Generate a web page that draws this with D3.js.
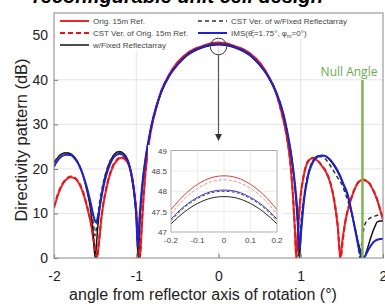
<!DOCTYPE html>
<html>
<head>
<meta charset="utf-8">
<script src="https://cdn.jsdelivr.net/npm/d3@7"></script>
<style>
  body { margin: 0; background: #fff; }
  svg { display: block; font-family: "Liberation Sans", Arial, sans-serif; }
</style>
</head>
<body>
<svg id="chart" width="385" height="306"></svg>
<script>
// values (angle in deg, directivity in dB)
var xTicks = [-2, -1, 0, 1, 2];
var yTicks = [0, 10, 20, 30, 40, 50];
var insetXTicks = [-0.2, -0.1, 0, 0.1, 0.2];
var insetYTicks = [47, 47.5, 48, 48.5, 49];
var nullAngle = 1.75;

var origRef = [[-2,11.2],[-1.95,14.3],[-1.9,16.4],[-1.85,17.6],[-1.8,18.1],[-1.75,17.9],[-1.7,16.9],[-1.65,14.8],[-1.6,11.6],[-1.55,7.6],[-1.51,3],[-1.48,0],[-1.45,4],[-1.42,9.5],[-1.37,15],[-1.3,19.8],[-1.23,22],[-1.18,22.5],[-1.12,21.8],[-1.06,18.8],[-1.01,12.5],[-0.98,6],[-0.955,0],[-0.935,6],[-0.91,14],[-0.87,22.5],[-0.82,28.8],[-0.76,33.5],[-0.7,37.3],[-0.6,41.2],[-0.5,43.9],[-0.4,45.7],[-0.3,46.9],[-0.2,47.55],[-0.15,47.91],[-0.1,48.17],[-0.05,48.33],[0,48.38],[0.05,48.33],[0.1,48.17],[0.15,47.91],[0.2,47.55],[0.3,46.9],[0.4,45.7],[0.5,43.9],[0.6,41.1],[0.7,37.1],[0.76,33.2],[0.82,28.3],[0.87,22],[0.905,14],[0.93,6],[0.945,0],[0.965,6],[0.99,12.5],[1.04,18.8],[1.09,21.7],[1.14,22.4],[1.2,21.9],[1.26,20.6],[1.31,19.2],[1.36,16.8],[1.41,12.5],[1.45,7],[1.48,0],[1.51,4.5],[1.55,9],[1.6,12.5],[1.68,16.4],[1.75,17.5],[1.82,17],[1.88,15.2],[1.93,13],[1.97,10.5],[2,8.5]];

var cstOrig = [[-2,11.5],[-1.95,14.5],[-1.9,16.6],[-1.85,17.8],[-1.8,18.3],[-1.75,18.1],[-1.7,17],[-1.65,15],[-1.6,11.8],[-1.55,7.8],[-1.51,3.2],[-1.475,0],[-1.45,4.5],[-1.42,9.8],[-1.37,15.2],[-1.3,20],[-1.23,22.2],[-1.18,22.7],[-1.12,22],[-1.06,19],[-1.01,12.8],[-0.98,6.3],[-0.958,0],[-0.938,6.3],[-0.91,14.3],[-0.87,22.6],[-0.82,28.8],[-0.76,33.4],[-0.7,37.2],[-0.6,41.1],[-0.5,43.8],[-0.4,45.6],[-0.3,46.8],[-0.2,47.44],[-0.15,47.81],[-0.1,48.07],[-0.05,48.23],[0,48.28],[0.05,48.23],[0.1,48.07],[0.15,47.81],[0.2,47.44],[0.3,46.8],[0.4,45.6],[0.5,43.8],[0.6,41],[0.7,37],[0.76,33.1],[0.82,28.2],[0.87,22],[0.905,14.2],[0.93,6.2],[0.948,0],[0.968,6.2],[0.993,12.7],[1.04,18.9],[1.09,21.8],[1.14,22.5],[1.2,22],[1.26,20.7],[1.31,19.3],[1.36,16.9],[1.41,12.7],[1.45,7.2],[1.485,0],[1.515,4.5],[1.55,9],[1.6,12.6],[1.68,16.5],[1.75,17.6],[1.82,17.1],[1.88,15.3],[1.93,13.1],[1.97,10.6],[2,8.7]];

var imsBeam = [[-2,20.5],[-1.95,22],[-1.9,22.9],[-1.85,23.2],[-1.8,23.1],[-1.75,22.4],[-1.7,21],[-1.65,18.8],[-1.6,15.8],[-1.55,12],[-1.52,9.5],[-1.49,8],[-1.46,9.8],[-1.43,13],[-1.38,17.5],[-1.32,21],[-1.26,22.9],[-1.2,23.4],[-1.14,22.8],[-1.08,20.5],[-1.03,15.5],[-1,9.5],[-0.98,2.5],[-0.96,9],[-0.93,16],[-0.89,22],[-0.84,27.5],[-0.79,31.8],[-0.7,37.1],[-0.6,40.9],[-0.5,43.4],[-0.4,45.3],[-0.3,46.6],[-0.2,47.32],[-0.15,47.63],[-0.1,47.85],[-0.05,47.99],[0,48.03],[0.05,47.99],[0.1,47.85],[0.15,47.63],[0.2,47.32],[0.3,46.6],[0.4,45.3],[0.5,43.4],[0.6,40.9],[0.7,37.3],[0.79,32.3],[0.84,28],[0.89,22.5],[0.93,16.5],[0.965,9],[0.985,2],[1.005,6],[1.04,13],[1.09,18.5],[1.15,21.6],[1.21,22.8],[1.27,23],[1.34,22.4],[1.41,20.8],[1.47,18.8],[1.52,16.6],[1.57,14.3],[1.62,10.2],[1.67,5.5],[1.72,1],[1.75,0],[1.785,0.5],[1.82,1.8],[1.86,3],[1.9,3.8],[1.95,4.2],[2,4.3]];

var cstFixed = [[-2,21.5],[-1.95,22.7],[-1.9,23.4],[-1.85,23.6],[-1.8,23.4],[-1.75,22.6],[-1.7,21.1],[-1.65,18.8],[-1.6,15.5],[-1.55,11],[-1.52,7.5],[-1.5,5],[-1.48,7.5],[-1.45,12],[-1.4,17],[-1.34,20.8],[-1.27,23.2],[-1.21,23.8],[-1.15,23.3],[-1.09,21.2],[-1.04,16.5],[-1,9.5],[-0.975,0],[-0.955,8.5],[-0.93,15.5],[-0.89,21.8],[-0.84,27.4],[-0.79,31.7],[-0.7,37.1],[-0.6,40.9],[-0.5,43.4],[-0.4,45.3],[-0.3,46.5],[-0.2,47.28],[-0.15,47.6],[-0.1,47.82],[-0.05,47.96],[0,48],[0.05,47.96],[0.1,47.82],[0.15,47.6],[0.2,47.28],[0.3,46.5],[0.4,45.3],[0.5,43.4],[0.6,40.9],[0.7,37.2],[0.79,32.2],[0.84,27.8],[0.89,22.3],[0.93,16],[0.96,8.5],[0.98,0],[1,7],[1.04,14],[1.09,19],[1.15,21.9],[1.21,22.8],[1.26,22.7],[1.32,21.8],[1.39,19.8],[1.45,18],[1.5,16.5],[1.56,13.5],[1.62,10],[1.67,6],[1.7,3],[1.72,0],[1.745,4],[1.78,7.5],[1.83,8.8],[1.9,9.4],[1.97,9.7],[2,9.6]];

var fixedRA = [[-2,21.3],[-1.95,22.6],[-1.9,23.4],[-1.85,23.6],[-1.8,23.4],[-1.75,22.6],[-1.7,21.1],[-1.65,18.7],[-1.6,15.2],[-1.56,11.5],[-1.53,7],[-1.5,0],[-1.47,6.5],[-1.44,11.8],[-1.4,16.5],[-1.34,20.7],[-1.27,23.2],[-1.21,23.9],[-1.15,23.4],[-1.09,21.3],[-1.04,16.5],[-1,9.5],[-0.975,0],[-0.955,8.5],[-0.93,15.4],[-0.89,21.7],[-0.84,27.3],[-0.79,31.6],[-0.7,37],[-0.6,40.8],[-0.5,43.3],[-0.4,45.2],[-0.3,46.4],[-0.2,47.2],[-0.15,47.49],[-0.1,47.7],[-0.05,47.83],[0,47.87],[0.05,47.83],[0.1,47.7],[0.15,47.49],[0.2,47.2],[0.3,46.4],[0.4,45.2],[0.5,43.3],[0.6,40.8],[0.7,37.1],[0.79,32.1],[0.84,27.7],[0.89,22.2],[0.93,15.8],[0.96,8.2],[0.985,0],[1.005,6.5],[1.04,13.5],[1.09,18.7],[1.15,21.8],[1.21,22.9],[1.27,23],[1.34,22.3],[1.41,20.6],[1.47,18.6],[1.52,16.4],[1.57,14],[1.62,10],[1.67,5.8],[1.72,2],[1.77,0],[1.8,1.5],[1.85,4.5],[1.9,7],[1.93,8.1],[1.97,8.3],[2,8.3]];

var series = [
  { name: 'Orig. 15m Ref.', data: origRef, color: '#e8262b', width: 2, dash: null, inColor: '#e03a3a', inDash: null },
  { name: 'w/Fixed Reflectarray', data: fixedRA, color: '#111', width: 1.5, dash: null, inColor: '#222', inDash: null },
  { name: 'CST Ver. of w/Fixed Reflectarray', data: cstFixed, color: '#333', width: 1.5, dash: '4,3', inColor: '#444', inDash: '3,2' },
  { name: 'CST Ver. of Orig. 15m Ref.', data: cstOrig, color: '#e3161c', width: 2, dash: '5,3', inColor: '#f08c8c', inDash: '3,2' },
  { name: 'IMS', data: imsBeam, color: '#1e22c8', width: 2, dash: null, inColor: '#3535c8', inDash: null }
];

var svg = d3.select('#chart');
var plotL = 54, plotR = 383, plotT = 13, plotB = 258;

var x = d3.scaleLinear().domain([-2, 2]).range([plotL, plotR]);
var y = d3.scaleLinear().domain([0, 55]).range([plotB, plotT]);

// title, clipped at the top of the picture
svg.append('text')
  .attr('x', 178).attr('y', 3)
  .attr('text-anchor', 'middle')
  .style('font-size', '20px').style('font-weight', 'bold').style('font-style', 'italic')
  .text('reconfigurable unit cell design');

svg.append('defs').append('clipPath').attr('id', 'plotclip')
  .append('rect').attr('x', plotL).attr('y', plotT).attr('width', plotR - plotL).attr('height', plotB - plotT);

// grid
var grid = svg.append('g').attr('stroke', '#e4e4e4').attr('stroke-width', 1);
grid.selectAll('.gx').data(xTicks.slice(1, -1)).enter().append('line')
  .attr('x1', function (d) { return x(d); }).attr('x2', function (d) { return x(d); })
  .attr('y1', plotT).attr('y2', plotB);
grid.selectAll('.gy').data(yTicks.slice(1)).enter().append('line')
  .attr('x1', plotL).attr('x2', plotR)
  .attr('y1', function (d) { return y(d); }).attr('y2', function (d) { return y(d); });

// curves
var line = d3.line()
  .x(function (d) { return x(d[0]); })
  .y(function (d) { return y(d[1]); })
  .curve(d3.curveMonotoneX);

var curves = svg.append('g').attr('clip-path', 'url(#plotclip)');
series.forEach(function (s) {
  curves.append('path')
    .attr('d', line(s.data))
    .attr('fill', 'none')
    .attr('stroke', s.color)
    .attr('stroke-width', s.width)
    .attr('stroke-dasharray', s.dash);
});

// null angle marker
svg.append('line')
  .attr('x1', x(nullAngle)).attr('x2', x(nullAngle))
  .attr('y1', 80).attr('y2', plotB)
  .attr('stroke', '#7fb550').attr('stroke-width', 2.5);
svg.append('text')
  .attr('x', 349).attr('y', 75.5)
  .attr('text-anchor', 'middle')
  .attr('fill', '#6aa84f')
  .style('font-family', '"Open Sans", sans-serif').style('font-size', '12px')
  .text('Null Angle');

// axes
var xAxis = d3.axisBottom(x).tickValues(xTicks).tickSize(-4).tickPadding(13);
var yAxis = d3.axisLeft(y).tickValues(yTicks).tickSize(-4).tickPadding(6);

var gx = svg.append('g').attr('transform', 'translate(0,' + plotB + ')').call(xAxis);
var gy = svg.append('g').attr('transform', 'translate(' + plotL + ',0)').call(yAxis);
[gx, gy].forEach(function (g) {
  g.select('.domain').remove();
  g.selectAll('line').attr('stroke', '#777');
  g.selectAll('text').style('font-size', '14px').attr('fill', '#222')
    .style('font-family', '"Liberation Sans", Arial, sans-serif');
});
gx.selectAll('text').text(function (d) { return d; });

svg.append('rect')
  .attr('x', plotL).attr('y', plotT).attr('width', plotR - plotL).attr('height', plotB - plotT)
  .attr('fill', 'none').attr('stroke', '#888').attr('stroke-width', 1);

svg.append('text')
  .attr('x', 203).attr('y', 300)
  .attr('text-anchor', 'middle')
  .style('font-size', '16px').attr('fill', '#222')
  .text('angle from reflector axis of rotation (\u00b0)');

svg.append('text')
  .attr('transform', 'translate(27,140) rotate(-90)')
  .attr('text-anchor', 'middle')
  .style('font-size', '16.5px').attr('fill', '#222')
  .text('Directivity pattern (dB)');

// legend
var lg = svg.append('g');
lg.append('rect').attr('x', plotL + 1).attr('y', plotT + 1).attr('width', plotR - plotL - 2).attr('height', 25).attr('fill', '#fff');
lg.append('rect').attr('x', plotL + 1).attr('y', plotT + 26).attr('width', 100).attr('height', 12).attr('fill', '#fff');

var legendItems = [
  { s: series[0], lx: 60, ty: 21 },
  { s: series[3], lx: 60, ty: 33 },
  { s: series[1], lx: 60, ty: 45 },
  { s: series[2], lx: 198, ty: 21 },
  { s: series[4], lx: 198, ty: 33 }
];
legendItems.forEach(function (it) {
  lg.append('line')
    .attr('x1', it.lx).attr('x2', it.lx + 29)
    .attr('y1', it.ty).attr('y2', it.ty)
    .attr('stroke', it.s.color).attr('stroke-width', it.s.width)
    .attr('stroke-dasharray', it.s.dash);
  var t = lg.append('text')
    .attr('x', it.lx + 33).attr('y', it.ty + 3)
    .style('font-size', '8px').attr('fill', '#444');
  if (it.s.name !== 'IMS') {
    t.text(it.s.name);
  } else {
    t.append('tspan').text('IMS(\u03b8');
    t.append('tspan').attr('dy', 2).style('font-size', '5.5px').text('r');
    t.append('tspan').attr('dx', -3).attr('dy', -5).style('font-size', '5.5px').text('c');
    t.append('tspan').attr('dy', 3).text('=1.75\u00b0, \u03c6');
    t.append('tspan').attr('dy', 2).style('font-size', '5.5px').text('m');
    t.append('tspan').attr('dy', -2).text('=0\u00b0)');
  }
});

// zoom circle and arrow
svg.append('circle')
  .attr('cx', x(0)).attr('cy', 46.5).attr('r', 8.3)
  .attr('fill', 'none').attr('stroke', '#333').attr('stroke-width', 1);
svg.append('line')
  .attr('x1', x(0)).attr('x2', x(0)).attr('y1', 55).attr('y2', 135)
  .attr('stroke', '#555').attr('stroke-width', 1.2);
svg.append('path')
  .attr('d', 'M' + (x(0) - 3.5) + ',134 L' + (x(0) + 3.5) + ',134 L' + x(0) + ',141 Z')
  .attr('fill', '#333');

// inset
var xi = d3.scaleLinear().domain([-0.2, 0.2]).range([171, 277]);
var yi = d3.scaleLinear().domain([47, 49]).range([232, 150.6]);

var inset = svg.append('g');
inset.append('rect').attr('x', 148).attr('y', 145).attr('width', 134).attr('height', 106).attr('fill', '#fff');
inset.append('defs').append('clipPath').attr('id', 'insetclip')
  .append('rect').attr('x', 171).attr('y', 150.6).attr('width', 106).attr('height', 81.4);

var ig = inset.append('g').attr('stroke', '#ececec');
ig.selectAll('.ix').data(insetXTicks.slice(1, -1)).enter().append('line')
  .attr('x1', function (d) { return xi(d); }).attr('x2', function (d) { return xi(d); })
  .attr('y1', 150.6).attr('y2', 232);
ig.selectAll('.iy').data(insetYTicks.slice(1, -1)).enter().append('line')
  .attr('x1', 171).attr('x2', 277)
  .attr('y1', function (d) { return yi(d); }).attr('y2', function (d) { return yi(d); });

var iline = d3.line()
  .x(function (d) { return xi(d[0]); })
  .y(function (d) { return yi(d[1]); })
  .curve(d3.curveNatural);

var icurves = inset.append('g').attr('clip-path', 'url(#insetclip)');
series.forEach(function (s) {
  var pts = s.data.filter(function (d) { return d[0] >= -0.2 && d[0] <= 0.2; });
  icurves.append('path')
    .attr('d', iline(pts))
    .attr('fill', 'none')
    .attr('stroke', s.inColor)
    .attr('stroke-width', 1)
    .attr('stroke-dasharray', s.inDash);
});

inset.append('rect').attr('x', 171).attr('y', 150.6).attr('width', 106).attr('height', 81.4)
  .attr('fill', 'none').attr('stroke', '#999').attr('stroke-width', 0.8);

inset.selectAll('.ixt').data(insetXTicks).enter().append('text')
  .attr('x', function (d) { return xi(d); }).attr('y', 243)
  .attr('text-anchor', 'middle')
  .style('font-size', '8px').attr('fill', '#444')
  .text(function (d) { return d; });
inset.selectAll('.iyt').data(insetYTicks).enter().append('text')
  .attr('x', 167).attr('y', function (d) { return yi(d) + 3; })
  .attr('text-anchor', 'end')
  .style('font-size', '8px').attr('fill', '#444')
  .text(function (d) { return d; });
</script>
</body>
</html>
